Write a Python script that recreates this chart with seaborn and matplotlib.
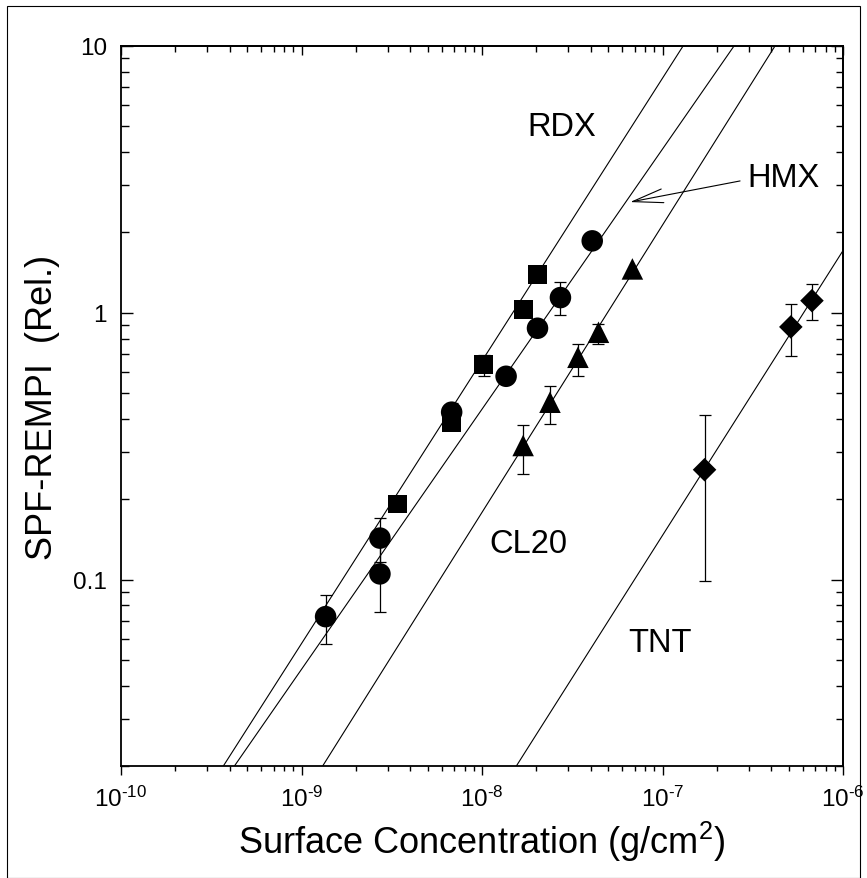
import numpy as np
import matplotlib
matplotlib.use("Agg")
import matplotlib.pyplot as plt
import seaborn as sns
from matplotlib.patches import Rectangle
from matplotlib.ticker import NullFormatter, LogLocator

# --- DATA ---
# RDX (squares)
rdx_x = [3.40e-9, 6.79e-9, 1.02e-8, 1.69e-8, 2.03e-8]
rdx_y = [0.192, 0.389, 0.639, 1.03, 1.39]
rdx_lo = [np.nan, np.nan, 0.581, np.nan, np.nan]
rdx_hi = [np.nan, np.nan, 0.697, np.nan, np.nan]

# HMX (circles)
hmx_x = [1.36e-9, 2.72e-9, 2.72e-9, 6.79e-9, 1.36e-8, 2.03e-8, 2.72e-8, 4.08e-8]
hmx_y = [0.0726, 0.143, 0.105, 0.424, 0.578, 0.875, 1.14, 1.86]
hmx_lo = [0.0572, 0.116, 0.0757, 0.389, np.nan, np.nan, 0.978, np.nan]
hmx_hi = [0.0878, 0.170, 0.134, 0.459, np.nan, np.nan, 1.30, np.nan]

# CL20 (triangles)
cl20_x = [1.69e-8, 2.38e-8, 3.40e-8, 4.42e-8, 6.81e-8]
cl20_y = [0.318, 0.462, 0.681, 0.845, 1.46]
cl20_lo = [0.249, 0.382, 0.579, 0.764, np.nan]
cl20_hi = [0.381, 0.530, 0.766, 0.908, np.nan]

# TNT (diamonds)
tnt_x = [1.71e-7, 5.14e-7, 6.73e-7]
tnt_y = [0.258, 0.885, 1.11]
tnt_lo = [0.0986, 0.689, 0.943]
tnt_hi = [0.415, 1.074, 1.28]

# fitted lines (end points where they leave the frame)
rdx_fit_x, rdx_fit_y = [3.69e-10, 1.30e-7], [0.02, 10]
hmx_fit_x, hmx_fit_y = [4.25e-10, 2.49e-7], [0.02, 10]
cl20_fit_x, cl20_fit_y = [1.31e-9, 4.20e-7], [0.02, 10]
tnt_fit_x, tnt_fit_y = [1.55e-8, 1.0e-6], [0.02, 1.71]

x_tick_values = [1e-10, 1e-9, 1e-8, 1e-7, 1e-6]
x_tick_labels = [r"10$^{\text{-}10}$", r"10$^{\text{-}9}$", r"10$^{\text{-}8}$",
                 r"10$^{\text{-}7}$", r"10$^{\text{-}6}$"]
y_tick_values = [0.1, 1, 10]
y_tick_labels = ["0.1", "1", "10"]

# --- STYLE ---
sns.set_style("ticks")
plt.rcParams["font.family"] = ["Liberation Sans", "DejaVu Sans"]
plt.rcParams["mathtext.fontset"] = "custom"
plt.rcParams["mathtext.rm"] = "Liberation Sans"
plt.rcParams["mathtext.it"] = "Liberation Sans:italic"
plt.rcParams["mathtext.bf"] = "Liberation Sans:bold"
for key in ["text.color", "axes.labelcolor", "xtick.color", "ytick.color", "axes.edgecolor"]:
    plt.rcParams[key] = "black"

PX = 72 / 100  # points per pixel at dpi 100

fig = plt.figure(figsize=(8.67, 8.79), dpi=100)
ax = fig.add_axes([121 / 867, 1 - 767 / 879, 722 / 867, 720 / 879])
ax.set_xscale("log")
ax.set_yscale("log")
ax.set_xlim(1e-10, 1e-6)
ax.set_ylim(0.02, 10)

# fit lines
for fx, fy in [(rdx_fit_x, rdx_fit_y), (hmx_fit_x, hmx_fit_y),
               (cl20_fit_x, cl20_fit_y), (tnt_fit_x, tnt_fit_y)]:
    sns.lineplot(x=fx, y=fy, color="black", linewidth=0.8, sort=False, ax=ax, zorder=1)

# error bars + markers
series = [
    (rdx_x, rdx_y, rdx_lo, rdx_hi, "s", 13.5),
    (hmx_x, hmx_y, hmx_lo, hmx_hi, "o", 15.5),
    (cl20_x, cl20_y, cl20_lo, cl20_hi, "^", 15.5),
    (tnt_x, tnt_y, tnt_lo, tnt_hi, "D", 12),
]
for sx, sy, lo, hi, mk, ms in series:
    sy_a = np.array(sy)
    yerr = [sy_a - np.array(lo), np.array(hi) - sy_a]
    ax.errorbar(sx, sy, yerr=yerr, fmt="none", ecolor="black",
                elinewidth=0.9, capsize=4.6, capthick=0.9, zorder=2)
    sns.scatterplot(x=sx, y=sy, marker=mk, s=ms ** 2, color="black",
                    edgecolor="none", ax=ax, zorder=3, legend=False)

# labels on the plot
ax.text(2.77e-8, 4.63, "RDX", fontsize=23.5, ha="center", va="baseline")
ax.text(4.71e-7, 2.99, "HMX", fontsize=23.5, ha="center", va="baseline")
ax.text(1.80e-8, 0.1268, "CL20", fontsize=23.5, ha="center", va="baseline")
ax.text(9.68e-8, 0.0539, "TNT", fontsize=23.5, ha="center", va="baseline")
ax.annotate("", xy=(6.61e-8, 2.60), xytext=(2.69e-7, 3.12),
            arrowprops=dict(arrowstyle="->,head_length=2.2,head_width=0.5",
                            color="black", lw=0.8, shrinkA=0, shrinkB=0,
                            mutation_scale=10))

# ticks
ax.set_xticks(x_tick_values, labels=x_tick_labels)
ax.set_yticks(y_tick_values, labels=y_tick_labels)
ax.xaxis.set_minor_locator(LogLocator(base=10, subs=np.arange(2, 10), numticks=100))
ax.yaxis.set_minor_locator(LogLocator(base=10, subs=np.arange(2, 10), numticks=100))
ax.xaxis.set_minor_formatter(NullFormatter())
ax.yaxis.set_minor_formatter(NullFormatter())
ax.tick_params(axis="x", which="both", direction="out", top=False, color="black", width=1)
ax.tick_params(axis="x", which="major", length=9 * PX, labelsize=17.5, pad=8)
ax.tick_params(axis="x", which="minor", length=5.3 * PX)
ax.tick_params(axis="y", which="both", direction="in", right=False, color="black", width=1)
ax.tick_params(axis="y", which="major", length=12 * PX, labelsize=17.5, pad=14 * PX)
ax.tick_params(axis="y", which="minor", length=8 * PX)

top = ax.secondary_xaxis("top")
top.xaxis.set_minor_locator(LogLocator(base=10, subs=np.arange(2, 10), numticks=100))
top.xaxis.set_major_formatter(NullFormatter())
top.xaxis.set_minor_formatter(NullFormatter())
top.tick_params(which="both", direction="in", width=1, color="black")
top.tick_params(which="major", length=9 * PX)
top.tick_params(which="minor", length=5.5 * PX)

right = ax.secondary_yaxis("right")
right.yaxis.set_minor_locator(LogLocator(base=10, subs=np.arange(2, 10), numticks=100))
right.yaxis.set_major_formatter(NullFormatter())
right.yaxis.set_minor_formatter(NullFormatter())
right.tick_params(which="both", direction="in", width=1, color="black")
right.tick_params(which="major", length=12 * PX)
right.tick_params(which="minor", length=7 * PX)

for a in (ax, top, right):
    for sp in a.spines.values():
        sp.set_linewidth(1.3)
        sp.set_color("black")

ax.set_xlabel("Surface Concentration (g/cm$^{2}$)", fontsize=26)
ax.set_ylabel("SPF-REMPI  (Rel.)", fontsize=26)
ax.xaxis.set_label_coords(0.5, -0.073)
ax.yaxis.set_label_coords(-0.085, 0.5)

# outer frame
fig.patches.append(Rectangle((7 / 867, 0), 853 / 867, 872 / 879, transform=fig.transFigure,
                             fill=False, edgecolor="black", linewidth=0.8))

fig.savefig("out.png", dpi=100, facecolor="white")
